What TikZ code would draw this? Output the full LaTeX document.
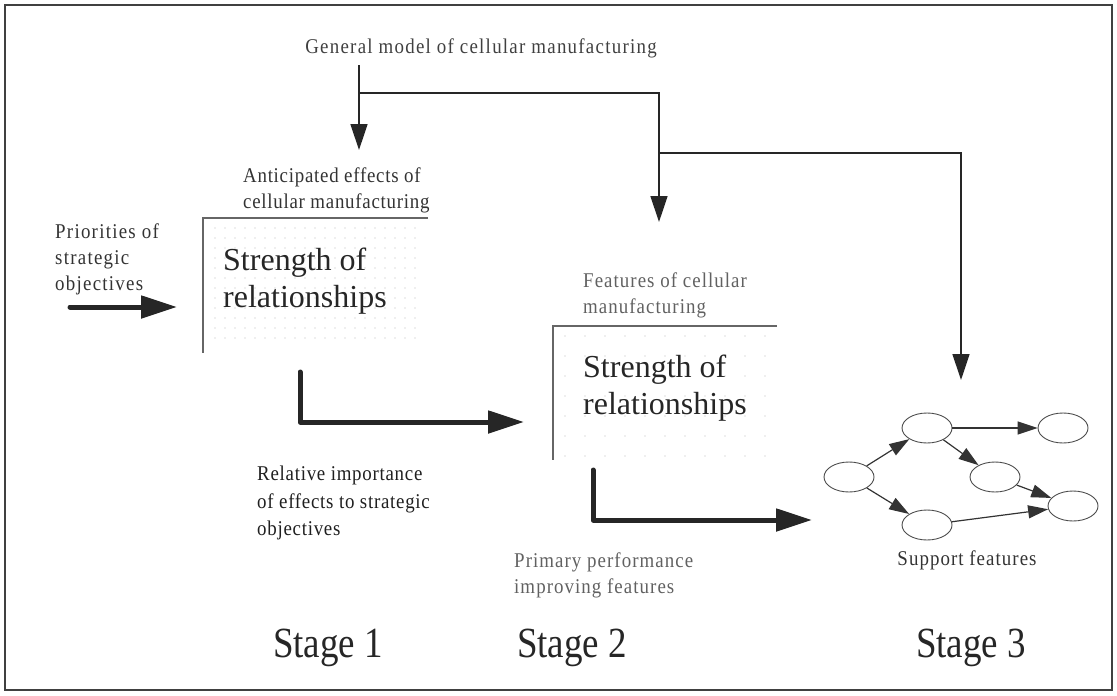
\documentclass[tikz,border=0pt]{standalone}
\usepackage{fontspec}
\setmainfont{Liberation Serif}
\newfontfamily\spaced[LetterSpace=3.5,FakeStretch=0.9]{Liberation Serif}
\newfontfamily\narrow[FakeStretch=0.86]{Liberation Serif}
\usetikzlibrary{arrows.meta,shapes.geometric}

\begin{document}
\begin{tikzpicture}[x=1pt,y=-1pt,
  lbl/.style={anchor=north west, inner sep=0pt, align=left,
    font=\spaced\fontsize{21}{26}\selectfont, text=black!80},
  pale/.style={lbl, text=black!62},
  big/.style={anchor=north west, inner sep=0pt, align=left,
    font=\fontsize{32}{37}\selectfont, text=black!85},
  stagelbl/.style={anchor=base, inner sep=0pt, font=\narrow\fontsize{43}{43}\selectfont, text=black!85},
  frame/.style={draw=black!60, line width=1.1pt},
  feed/.style={draw=black!85, line width=1.4pt, -{Triangle[length=26pt,width=17pt]}},
  flow/.style={draw=black!85, line width=5pt, line cap=round, line join=round,
    -{Triangle[length=36pt,width=22pt]}},
  feature/.style={draw=black!70, line width=0.9pt, ellipse, minimum width=50pt, minimum height=30pt, inner sep=0pt},
  link/.style={draw=black!80, line width=1.2pt, -{Triangle[length=20pt,width=13pt]}},
  griddot/.style={fill=black!28}
]
% page and outer frame
\useasboundingbox (0,0) rectangle (1117,696);
\draw[draw=black!75, line width=1.6pt] (5,5) rectangle (1112,690);

% titles and labels
\node[lbl, anchor=base, text=black!75, font=\spaced\fontsize{21}{26}\selectfont\addfontfeature{LetterSpace=6}] (gen) at (481,53) {General model of cellular manufacturing};
\node[lbl] (antic) at (243,168) {Anticipated effects of\\cellular manufacturing};
\node[lbl, font=\spaced\fontsize{21}{26}\selectfont\addfontfeature{LetterSpace=6}] (prior) at (55,224) {Priorities of\\strategic\\objectives};
\node[lbl, font=\spaced\fontsize{21}{27.5}\selectfont, text=black!88] (rel) at (257,466) {Relative importance\\of effects to strategic\\objectives};
\node[pale, font=\spaced\fontsize{21}{26}\selectfont\addfontfeature{LetterSpace=5}] (feat) at (583,273) {Features of cellular\\manufacturing};
\node[pale, font=\spaced\fontsize{21}{26}\selectfont\addfontfeature{LetterSpace=5}] (prim) at (514,553) {Primary performance\\improving features};
\node[lbl, anchor=base, font=\spaced\fontsize{21}{26}\selectfont\addfontfeature{LetterSpace=5}] (supp) at (967,565) {Support features};

% dotted matrices
\foreach \x in {215,225,...,415} \foreach \y in {228,238,...,345}
  \fill[griddot] (\x,\y) circle (0.6pt);
\foreach \x in {565,585,...,775} \foreach \y in {336,356,...,456}
  \fill[griddot] (\x,\y) circle (0.6pt);

% matrix frames
\coordinate (m1tl) at (203,218);
\draw[frame] (428,218) -- (m1tl) -- (203,353);
\coordinate (m2tl) at (553,326);
\draw[frame] (777,326) -- (m2tl) -- (553,460);

\node[big] (str1) at (223,248) {Strength of\\relationships};
\node[big] (str2) at (583,355) {Strength of\\relationships};

% feed of the general model into the three stages
\coordinate (g0) at (359,65);
\coordinate (j1) at (359,93);
\coordinate (j2) at (659,153);
\coordinate (t1) at (359,150);
\coordinate (t2) at (659,222);
\coordinate (t3) at (961,380);
\draw[feed] (g0) -- (t1);
\draw[feed] (j1) -| (t2);
\draw[feed] (j2) -| (t3);

% main flow
\coordinate (p0) at (70,307);
\coordinate (p1) at (177,307);
\draw[flow] (p0) -- (p1);
\coordinate (a0) at (300,372);
\coordinate (a1) at (524,422);
\draw[flow] (a0) |- (a1);
\coordinate (b0) at (593,470);
\coordinate (b1) at (812,520);
\draw[flow] (b0) |- (b1);

% support feature network
\node[feature] (e1) at (849,477) {};
\node[feature] (e2) at (927,428) {};
\node[feature] (e3) at (1063,428) {};
\node[feature] (e4) at (995,477) {};
\node[feature] (e5) at (927,525) {};
\node[feature] (e6) at (1073,506) {};
\draw[link] (e1) -- (e2);
\draw[link] (e1) -- (e5);
\draw[link] (e2) -- (e3);
\draw[link] (e2) -- (e4);
\draw[link] (e4) -- (e6);
\draw[link] (e5) -- (e6);

% stage captions
\node[stagelbl] (s1) at (328,657) {Stage 1};
\node[stagelbl] (s2) at (572,657) {Stage 2};
\node[stagelbl] (s3) at (971,657) {Stage 3};
\end{tikzpicture}
\end{document}
